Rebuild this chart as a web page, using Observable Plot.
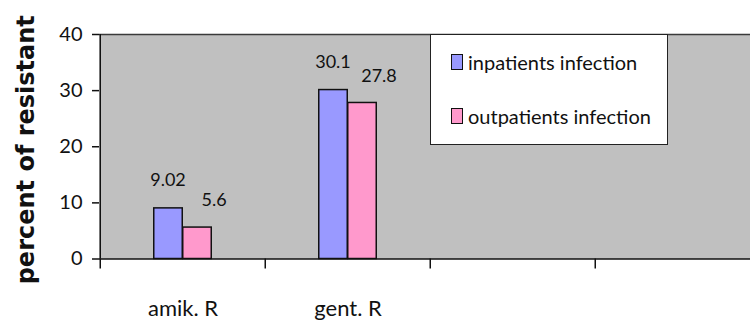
<!DOCTYPE html>
<html>
<head>
<meta charset="utf-8">
<script src="https://cdn.jsdelivr.net/npm/d3@7"></script>
<script src="https://cdn.jsdelivr.net/npm/@observablehq/plot@0.6"></script>
<style>
  html, body { margin: 0; padding: 0; background: #fff; }
  #wrap { position: relative; width: 750px; height: 328px; overflow: hidden; }
  #legend { position: absolute; left: 430px; top: 34px; width: 236px; height: 109px;
    background: #fff; border: 1.5px solid #222; font-family: Lato, sans-serif; font-size: 20px; color: #111; }
  .item { position: absolute; left: 20px; display: flex; align-items: center; white-space: nowrap; }
  .sw { width: 10px; height: 14px; border: 1.3px solid #111; margin-right: 5px; }
</style>
</head>
<body>
<div id="wrap"></div>
<script>
const categories = ["amik. R", "gent. R", "", " "];
const drugs = ["amik. R", "gent. R"];
const inpatients = [9.02, 30.1];
const outpatients = [5.6, 27.8];
const seriesNames = ["inpatients infection", "outpatients infection"];
const seriesColors = ["#9999FF", "#FF99CC"];
const yTicks = [0, 10, 20, 30, 40];

const inData = drugs.map((d, i) => ({cat: d, value: inpatients[i], label: String(inpatients[i])}));
const outData = drugs.map((d, i) => ({cat: d, value: outpatients[i], label: String(outpatients[i])}));

const xRange = [99, 761];
const step = (xRange[1] - xRange[0]) / categories.length;
const half = step / 2;
const barW = 29;

const plot = Plot.plot({
  width: 750,
  height: 328,
  marginLeft: 99,
  marginRight: 0,
  marginTop: 34,
  marginBottom: 69.5,
  style: {background: "transparent", color: "#111"},
  x: {type: "band", domain: categories, range: xRange, padding: 0},
  y: {domain: [0, 40], range: [258.5, 34]},
  marks: [
    Plot.frame({fill: "#C0C0C0", stroke: "none"}),
    Plot.ruleY([40], {stroke: "#3a3a3a", strokeWidth: 1.5}),
    Plot.barY(inData, {x: "cat", y: "value", fill: seriesColors[0], stroke: "#111", strokeWidth: 1.5,
      insetLeft: half - barW, insetRight: half}),
    Plot.barY(outData, {x: "cat", y: "value", fill: seriesColors[1], stroke: "#111", strokeWidth: 1.5,
      insetLeft: half, insetRight: half - barW}),
    Plot.text(inData, {x: "cat", y: "value", text: "label", dx: -15, dy: -28,
      fontFamily: "Lato", fontSize: 18, fill: "#111"}),
    Plot.text(outData, {x: "cat", y: "value", text: "label", dx: 31, dy: -27,
      fontFamily: "Lato", fontSize: 18, fill: "#111"}),
    Plot.ruleY([0], {stroke: "#111", strokeWidth: 1.5}),
    Plot.ruleX([categories[0]], {dx: -half, y1: 0, y2: 40, stroke: "#111", strokeWidth: 1.5}),
    Plot.axisY({ticks: yTicks, tickSize: 7, tickPadding: 10, fontSize: 20, fontFamily: "Lato",
      label: null, stroke: "#111", strokeWidth: 1.5}),
    Plot.axisX({tickSize: 10, dx: -half, tickFormat: () => "", label: null, stroke: "#111", strokeWidth: 1.5}),
    Plot.axisX({tickSize: 0, tickPadding: 41, fontSize: 22, fontFamily: "Lato", label: null}),
    Plot.text(["percent of resistant"], {frameAnchor: "left", textAnchor: "middle", rotate: -90, dx: -73, dy: 3,
      fontFamily: "DejaVu Sans", fontWeight: "bold", fontSize: 24, fill: "#111"})
  ]
});

const wrap = document.getElementById("wrap");
wrap.appendChild(plot);

const legend = document.createElement("div");
legend.id = "legend";
seriesNames.forEach((name, i) => {
  const item = document.createElement("div");
  item.className = "item";
  item.style.top = (i === 0 ? 15 : 69) + "px";
  const sw = document.createElement("span");
  sw.className = "sw";
  sw.style.background = seriesColors[i];
  const t = document.createElement("span");
  t.textContent = name;
  item.appendChild(sw);
  item.appendChild(t);
  legend.appendChild(item);
});
wrap.appendChild(legend);
</script>
</body>
</html>
